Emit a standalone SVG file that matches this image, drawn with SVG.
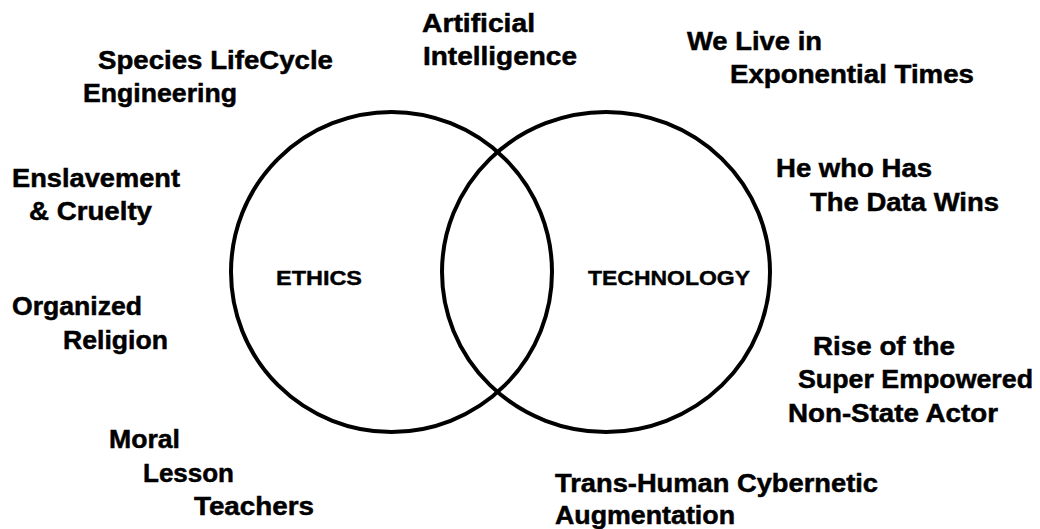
<svg xmlns="http://www.w3.org/2000/svg" width="1040" height="529" viewBox="0 0 1040 529">
  <style>
    .ring { fill: none; stroke: #000; stroke-width: 4; }
    .lbl { font-family: "Liberation Sans", Arial, sans-serif; font-weight: bold; font-size: 26px; fill: #000; stroke: #000; stroke-width: 0.5; }
    .core { font-family: "Liberation Sans", Arial, sans-serif; font-weight: bold; font-size: 21px; fill: #000; stroke: #000; stroke-width: 0.4; }
  </style>
  <rect width="1040" height="529" fill="#fff"/>

  <!-- Two overlapping sets -->
  <g id="ethics">
    <ellipse class="ring" cx="391.5" cy="272" rx="160.5" ry="160"/>
    <text class="core" x="276" y="285" textLength="86" lengthAdjust="spacingAndGlyphs">ETHICS</text>
  </g>
  <g id="technology">
    <ellipse class="ring" cx="606" cy="272" rx="164" ry="160"/>
    <text class="core" x="588" y="285" textLength="162" lengthAdjust="spacingAndGlyphs">TECHNOLOGY</text>
  </g>

  <!-- Surrounding themes -->
  <g id="artificial-intelligence">
    <text class="lbl" x="422" y="32" textLength="113" lengthAdjust="spacingAndGlyphs">Artificial</text>
    <text class="lbl" x="423" y="65" textLength="154" lengthAdjust="spacingAndGlyphs">Intelligence</text>
  </g>
  <g id="species-lifecycle">
    <text class="lbl" x="98" y="69" textLength="235" lengthAdjust="spacingAndGlyphs">Species LifeCycle</text>
    <text class="lbl" x="83" y="102" textLength="154" lengthAdjust="spacingAndGlyphs">Engineering</text>
  </g>
  <g id="exponential-times">
    <text class="lbl" x="687" y="50" textLength="135" lengthAdjust="spacingAndGlyphs">We Live in</text>
    <text class="lbl" x="730" y="83" textLength="244" lengthAdjust="spacingAndGlyphs">Exponential Times</text>
  </g>
  <g id="enslavement">
    <text class="lbl" x="12" y="187" textLength="168" lengthAdjust="spacingAndGlyphs">Enslavement</text>
    <text class="lbl" x="29" y="220" textLength="123" lengthAdjust="spacingAndGlyphs">&amp; Cruelty</text>
  </g>
  <g id="data-wins">
    <text class="lbl" x="776" y="177" textLength="156" lengthAdjust="spacingAndGlyphs">He who Has</text>
    <text class="lbl" x="810" y="211" textLength="189" lengthAdjust="spacingAndGlyphs">The Data Wins</text>
  </g>
  <g id="organized-religion">
    <text class="lbl" x="12" y="315" textLength="130" lengthAdjust="spacingAndGlyphs">Organized</text>
    <text class="lbl" x="63" y="349" textLength="105" lengthAdjust="spacingAndGlyphs">Religion</text>
  </g>
  <g id="non-state-actor">
    <text class="lbl" x="813" y="355" textLength="142" lengthAdjust="spacingAndGlyphs">Rise of the</text>
    <text class="lbl" x="798" y="388" textLength="235" lengthAdjust="spacingAndGlyphs">Super Empowered</text>
    <text class="lbl" x="788" y="422" textLength="210" lengthAdjust="spacingAndGlyphs">Non-State Actor</text>
  </g>
  <g id="moral-teachers">
    <text class="lbl" x="109" y="448" textLength="71" lengthAdjust="spacingAndGlyphs">Moral</text>
    <text class="lbl" x="143" y="482" textLength="91" lengthAdjust="spacingAndGlyphs">Lesson</text>
    <text class="lbl" x="194" y="515" textLength="120" lengthAdjust="spacingAndGlyphs">Teachers</text>
  </g>
  <g id="cybernetic-augmentation">
    <text class="lbl" x="555" y="492" textLength="323" lengthAdjust="spacingAndGlyphs">Trans-Human Cybernetic</text>
    <text class="lbl" x="555" y="524" textLength="180" lengthAdjust="spacingAndGlyphs">Augmentation</text>
  </g>

  <!-- No connectors in this diagram -->
  <g id="connectors"/>
</svg>
